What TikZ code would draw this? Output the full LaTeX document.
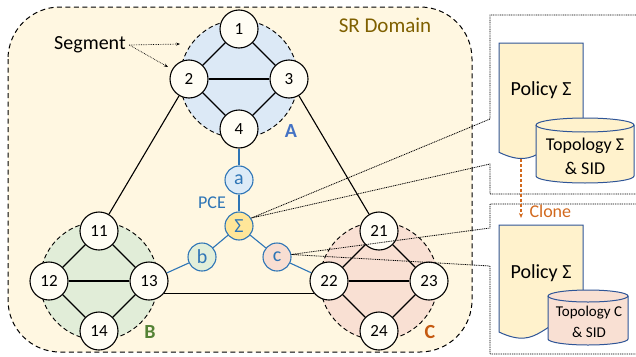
\documentclass[tikz,border=0pt]{standalone}
\usepackage{fontspec}
\setmainfont{Carlito}
\usetikzlibrary{arrows.meta}
\definecolor{domfill}{HTML}{FFF7E1}
\definecolor{segA}{HTML}{DCE9F6}
\definecolor{segB}{HTML}{E1EDD8}
\definecolor{segC}{HTML}{F9E0D3}
\definecolor{ndfill}{HTML}{FFFDF4}
\definecolor{pceblue}{HTML}{2E75B6}
\definecolor{labA}{HTML}{4472C4}
\definecolor{labB}{HTML}{548235}
\definecolor{labC}{HTML}{C55A11}
\definecolor{srtext}{HTML}{7F6000}
\definecolor{docfill}{HTML}{FFF2CC}
\definecolor{docline}{HTML}{2F5597}
\definecolor{pfa}{HTML}{DDEBF7}
\definecolor{pfs}{HTML}{FFE699}
\definecolor{pfb}{HTML}{E2EFDA}
\definecolor{pfc}{HTML}{F8DED2}
\definecolor{clone}{HTML}{D2691E}
\begin{document}
\begin{tikzpicture}[x=1pt,y=-1pt,
  nd/.style={circle,draw=black,line width=1.1pt,fill=ndfill,minimum size=38pt,inner sep=0pt,font=\fontsize{17}{18}\selectfont},
  pnd/.style={circle,draw=pceblue,line width=1.1pt,minimum size=28pt,inner sep=0pt,text=pceblue,font=\fontsize{20}{20}\selectfont},
  seg/.style={draw=black,line width=0.9pt,dash pattern=on 4.5pt off 3pt},
  blk/.style={draw=black,line width=1.1pt},
  blu/.style={draw=pceblue,line width=1.1pt},
  callout/.style={draw=black,line width=0.8pt,dash pattern=on 1pt off 0.8pt},
  doc/.style={draw=docline,line width=1pt,fill=docfill},
  lab/.style={font=\bfseries\fontsize{20}{20}\selectfont}
]
\useasboundingbox (0,0) rectangle (636,356);
\clip (0,0) rectangle (636,356);
% SR domain
\draw[fill=domfill,draw=black,line width=1pt,dash pattern=on 5pt off 3.5pt,rounded corners=52pt] (8,7) rectangle (472,352);
\node[text=srtext,font=\fontsize{21}{21}\selectfont] (srd) at (385,25) {SR Domain};
% segments
\draw[seg,fill=segA] (239,79) circle[radius=59pt];
\draw[seg,fill=segB] (99,281) circle[radius=59pt];
\draw[seg,fill=segC] (379,281) circle[radius=59pt];
% nodes
\node[nd] (n1) at (239,29) {1};
\node[nd] (n2) at (189,79) {2};
\node[nd] (n3) at (289,79) {3};
\node[nd] (n4) at (239,129) {4};
\node[nd] (n11) at (99,231) {11};
\node[nd] (n12) at (49,281) {12};
\node[nd] (n13) at (149,281) {13};
\node[nd] (n14) at (99,331) {14};
\node[nd] (n21) at (379,231) {21};
\node[nd] (n22) at (329,281) {22};
\node[nd] (n23) at (429,281) {23};
\node[nd] (n24) at (379,331) {24};
% PCE nodes
\node[pnd,fill=pfa] (pa) at (239,180) {a};
\node[pnd,fill=pfs] (ps) at (239,226) {Σ};
\node[pnd,fill=pfb] (pb) at (202,257) {b};
\node[pnd,fill=pfc] (pc) at (277,257) {c};
\node[text=pceblue,font=\fontsize{18}{18}\selectfont] (pce) at (212,203) {PCE};
% links
\draw[blk] (n1) -- (n2); \draw[blk] (n1) -- (n3); \draw[blk] (n2) -- (n3);
\draw[blk] (n2) -- (n4); \draw[blk] (n3) -- (n4);
\draw[blk] (n11) -- (n12); \draw[blk] (n11) -- (n13); \draw[blk] (n12) -- (n13);
\draw[blk] (n12) -- (n14); \draw[blk] (n13) -- (n14);
\draw[blk] (n21) -- (n22); \draw[blk] (n21) -- (n23); \draw[blk] (n22) -- (n23);
\draw[blk] (n22) -- (n24); \draw[blk] (n23) -- (n24);
\draw[blk] (n2) -- (n11);
\draw[blk] (n3) -- (n21);
\draw[blk] (n13.-39) -- (n22.-141);
\draw[blu] (n4) -- (pa); \draw[blu] (pa) -- (ps);
\draw[blu] (ps) -- (pb); \draw[blu] (ps) -- (pc);
\draw[blu] (pb) -- (n13); \draw[blu] (pc) -- (n22);
% segment labels
\node[lab,text=labA] (la) at (291,131) {A};
\node[lab,text=labB] (lb) at (150,332) {B};
\node[lab,text=labC] (lc) at (430,332) {C};
% Segment annotation
\node[font=\fontsize{20}{20}\selectfont] (segtxt) at (90,45) {Segment};
\coordinate (sa1) at (180,44);
\coordinate (sa2) at (168,67);
\draw[densely dotted,line width=0.7pt,-{Stealth[length=4pt,width=3pt]}] (segtxt.east) -- (sa1);
\draw[densely dotted,line width=0.7pt,-{Stealth[length=4pt,width=3pt]}] (segtxt.east) -- (sa2);
% callout boxes
\coordinate (u1) at (490,119);
\coordinate (u2) at (490,164);
\coordinate (l1) at (490,228);
\coordinate (l2) at (490,266);
\draw[callout] (ps.33) -- (u1) -- (490,15) -- (650,15) -- (650,194) -- (490,194) -- (u2) -- (ps.33);
\draw[callout] (pc.10) -- (l1) -- (490,204) -- (650,204) -- (650,354) -- (490,354) -- (l2) -- (pc.10);
% upper document
\draw[doc] (499,43) -- (583,43) -- (583,137) .. controls (541,137) and (541,172.5) .. (499,152.3) -- cycle;
\node[font=\fontsize{20}{20}\selectfont] (pol1) at (541,90) {Policy Σ};
% upper cylinder
\draw[doc] (536,125) -- (536,176) arc[start angle=180,end angle=360,x radius=49pt,y radius=7pt] -- (634,125) arc[start angle=0,end angle=180,x radius=49pt,y radius=7pt] -- cycle;
\draw[draw=docline,line width=1pt] (536,125) arc[start angle=180,end angle=360,x radius=49pt,y radius=7pt];
\node[font=\fontsize{18}{18}\selectfont] (top1) at (585,146) {Topology Σ};
\node[font=\fontsize{18}{18}\selectfont] (sid1) at (585,168) {\& SID};
% lower document
\draw[doc] (499,225) -- (583,225) -- (583,317) .. controls (541,317) and (541,352) .. (499,332) -- cycle;
\node[font=\fontsize{20}{20}\selectfont] (pol2) at (541,273) {Policy Σ};
% lower cylinder
\draw[doc,fill=segC] (548,296) -- (548,339) arc[start angle=180,end angle=360,x radius=40pt,y radius=6pt] -- (628,296) arc[start angle=0,end angle=180,x radius=40pt,y radius=6pt] -- cycle;
\draw[draw=docline,line width=1pt] (548,296) arc[start angle=180,end angle=360,x radius=40pt,y radius=6pt];
\node[font=\fontsize{15}{15}\selectfont] (top2) at (589,313) {Topology C};
\node[font=\fontsize{15}{15}\selectfont] (sid2) at (589,332) {\& SID};
% clone
\coordinate (cl1) at (521,159);
\coordinate (cl2) at (521,218);
\draw[draw=clone,line width=1.3pt,dash pattern=on 3pt off 2pt,-{Stealth[length=5pt,width=4pt]}] (cl1) -- (cl2);
\node[text=clone,font=\fontsize{18}{18}\selectfont,anchor=west] (clt) at (526,211) {Clone};
\end{tikzpicture}
\end{document}
